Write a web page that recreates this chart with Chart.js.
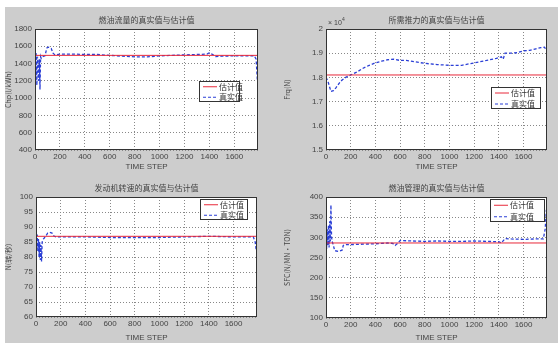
<!DOCTYPE html>
<html>
<head>
<meta charset="utf-8">
<script src="https://cdn.jsdelivr.net/npm/chart.js@4"></script>
<style>
  body { margin: 0; background: #fff; }
  #fig { position: absolute; left: 5px; top: 7px; width: 553px; height: 336px; background: #cdcdcd; }
  canvas { position: absolute; }
</style>
</head>
<body>
<div id="fig"></div>
<canvas id="c1" width="279" height="172" style="left:0;top:0"></canvas>
<canvas id="c2" width="279" height="172" style="left:279px;top:0"></canvas>
<canvas id="c3" width="279" height="172" style="left:0;top:171px"></canvas>
<canvas id="c4" width="279" height="172" style="left:279px;top:171px"></canvas>
<script>
// time axis
const xMax = 1790;
const xTicks = [0, 200, 400, 600, 800, 1000, 1200, 1400, 1600];
const seriesNames = ['估计值', '真实值'];

// fuel flow
const fuelSteps = [0, 5, 10, 15, 20, 25, 30, 35, 40, 45, 50, 60, 80, 95, 110, 130, 145, 160, 200, 300, 400, 500, 600, 700, 800, 900, 1000, 1100, 1200, 1300, 1380, 1400, 1420, 1450, 1500, 1600, 1700, 1760, 1775, 1785];
const fuelReal = [1500, 1300, 1520, 1150, 1480, 1400, 1200, 1450, 1100, 1480, 1460, 1480, 1490, 1580, 1590, 1575, 1520, 1500, 1510, 1510, 1505, 1505, 1495, 1485, 1478, 1478, 1488, 1495, 1500, 1505, 1510, 1525, 1510, 1482, 1485, 1490, 1490, 1490, 1450, 1200];
const fuelEst = 1495;

// required thrust (x 10^4)
const thrustSteps = [0, 15, 40, 60, 80, 120, 160, 200, 250, 300, 350, 400, 450, 500, 550, 600, 650, 700, 800, 900, 1000, 1100, 1200, 1300, 1380, 1420, 1435, 1450, 1500, 1550, 1600, 1650, 1700, 1740, 1770, 1785];
const thrustReal = [1.80, 1.785, 1.742, 1.745, 1.757, 1.785, 1.80, 1.81, 1.822, 1.838, 1.85, 1.86, 1.867, 1.873, 1.875, 1.870, 1.870, 1.866, 1.858, 1.853, 1.850, 1.850, 1.860, 1.870, 1.879, 1.885, 1.875, 1.90, 1.90, 1.902, 1.91, 1.912, 1.918, 1.923, 1.925, 1.91];
const thrustEst = 1.81;

// engine speed
const speedSteps = [0, 5, 10, 15, 20, 25, 30, 35, 40, 45, 50, 60, 80, 95, 110, 130, 145, 160, 200, 400, 600, 800, 1000, 1200, 1400, 1600, 1760, 1775, 1785];
const speedReal = [86, 84, 87.5, 82, 86, 80, 85, 79, 84, 78.5, 85, 86, 87, 88, 88.2, 88, 87, 86.7, 86.7, 86.7, 86.5, 86.5, 86.5, 86.7, 86.9, 86.7, 86.7, 85, 82];
const speedEst = 86.9;

// fuel line
const lineSteps = [0, 5, 10, 15, 20, 25, 30, 35, 40, 45, 50, 60, 70, 100, 130, 140, 150, 200, 300, 400, 450, 500, 540, 560, 580, 600, 700, 800, 900, 1000, 1100, 1200, 1300, 1400, 1420, 1450, 1500, 1600, 1700, 1760, 1775, 1785];
const lineReal = [304, 272, 320, 280, 330, 275, 340, 290, 380, 300, 290, 280, 267, 265, 268, 280, 282, 282, 283, 284, 285, 286, 285, 280, 285, 292, 291, 290, 291, 290, 290, 291, 290, 289, 286, 297, 296, 295, 296, 296, 320, 368];
const lineEst = 286;

function boxPlugin(title, legendBox, exponent) {
  return {
    id: 'matlabBox',
    beforeDraw(chart) {
      const a = chart.chartArea, ctx = chart.ctx;
      ctx.save();
      ctx.fillStyle = '#fff';
      ctx.fillRect(a.left, a.top, a.right - a.left, a.bottom - a.top);
      ctx.restore();
    },
    afterDraw(chart) {
      const a = chart.chartArea, ctx = chart.ctx;
      ctx.save();
      ctx.strokeStyle = '#333';
      ctx.lineWidth = 1;
      ctx.strokeRect(a.left + 0.5, a.top + 0.5, a.right - a.left - 1, a.bottom - a.top - 1);
      ctx.fillStyle = '#444';
      ctx.font = '8px "Noto Sans CJK SC"';
      ctx.textAlign = 'center';
      ctx.textBaseline = 'middle';
      ctx.fillText(title, (a.left + a.right) / 2, a.top - 9);
      if (exponent) {
        ctx.textAlign = 'left';
        ctx.font = '7px "Liberation Sans"';
        ctx.fillText('× 10', a.left + 2, a.top - 6);
        ctx.font = '5px "Liberation Sans"';
        ctx.fillText(exponent, a.left + 16, a.top - 9);
      }
      // legend
      const [lx, ly, lw, lh] = legendBox;
      ctx.fillStyle = '#fff';
      ctx.fillRect(lx, ly, lw, lh);
      ctx.strokeStyle = '#333';
      ctx.strokeRect(lx + 0.5, ly + 0.5, lw - 1, lh - 1);
      chart.data.datasets.forEach((d, i) => {
        const y = ly + lh * (i + 0.5) / 2 + 0.5;
        ctx.strokeStyle = d.borderColor;
        ctx.lineWidth = 1;
        ctx.setLineDash(d.borderDash || []);
        ctx.beginPath();
        ctx.moveTo(lx + 4, y);
        ctx.lineTo(lx + 18, y);
        ctx.stroke();
        ctx.setLineDash([]);
        ctx.fillStyle = '#333';
        ctx.font = '8px "Noto Sans CJK SC"';
        ctx.textAlign = 'left';
        ctx.fillText(d.label, lx + 20, y);
      });
      ctx.restore();
    }
  };
}

function makeChart(id, o) {
  const W = 279, H = 172;
  const a = o.area;
  return new Chart(document.getElementById(id), {
    type: 'line',
    data: {
      datasets: [{
        label: seriesNames[0],
        data: [{ x: 0, y: o.est }, { x: xMax, y: o.est }],
        borderColor: '#e8283a',
        borderWidth: 1,
        pointRadius: 0
      }, {
        label: seriesNames[1],
        data: o.steps.map((s, i) => ({ x: s, y: o.real[i] })),
        borderColor: '#2b3fd6',
        borderDash: [3, 2],
        borderWidth: 1.3,
        pointRadius: 0
      }]
    },
    options: {
      responsive: false,
      animation: false,
      layout: { padding: { left: 0, top: a[1], right: W - a[2], bottom: 0 } },
      plugins: { legend: { display: false }, tooltip: { enabled: false } },
      scales: {
        x: {
          type: 'linear', min: 0, max: xMax,
          afterBuildTicks: s => { s.ticks = xTicks.map(v => ({ value: v })); },
          afterFit: s => { s.height = H - a[3]; },
          ticks: { autoSkip: false, color: '#444', font: { size: 8, family: 'Liberation Sans' }, padding: 2, maxRotation: 0, callback: v => String(v) },
          grid: { color: '#888', drawTicks: false },
          border: { display: false, dash: [1, 2] },
          title: { display: true, text: 'TIME STEP', color: '#444', font: { size: 8, family: 'Liberation Sans' }, padding: 0 }
        },
        y: {
          min: o.yMin, max: o.yMax,
          afterBuildTicks: s => {
            s.ticks = [];
            for (let v = o.yMin; v <= o.yMax + 1e-9; v += o.yStep) s.ticks.push({ value: +v.toFixed(3) });
          },
          afterFit: s => { s.width = a[0]; },
          ticks: { autoSkip: false, color: '#444', font: { size: 8, family: 'Liberation Sans' }, padding: 3, callback: v => String(+v.toFixed(3)) },
          grid: { color: '#888', drawTicks: false },
          border: { display: false, dash: [1, 2] },
          title: { display: true, text: o.yLabel, color: '#444', font: { size: 7, family: 'Noto Sans CJK SC' }, padding: 4 }
        }
      }
    },
    plugins: [boxPlugin(o.title, o.legend, o.exponent)]
  });
}

makeChart('c1', {
  area: [35, 29, 258, 150], yMin: 400, yMax: 1800, yStep: 200,
  yLabel: 'Chp(l/kWh)', title: '燃油流量的真实值与估计值',
  est: fuelEst, steps: fuelSteps, real: fuelReal, legend: [199, 81, 41, 21]
});
makeChart('c2', {
  area: [47, 29, 268, 150], yMin: 1.5, yMax: 2, yStep: 0.1,
  yLabel: 'Frq(N)', title: '所需推力的真实值与估计值', exponent: '4',
  est: thrustEst, steps: thrustSteps, real: thrustReal, legend: [212, 87, 50, 22]
});
makeChart('c3', {
  area: [36, 26, 257, 146], yMin: 60, yMax: 100, yStep: 5,
  yLabel: 'N(转/秒)', title: '发动机转速的真实值与估计值',
  est: speedEst, steps: speedSteps, real: speedReal, legend: [200, 28, 48, 21]
});
makeChart('c4', {
  area: [47, 26, 268, 147], yMin: 100, yMax: 400, yStep: 50,
  yLabel: 'SFC(N/MN·TON)', title: '燃油管理的真实值与估计值',
  est: lineEst, steps: lineSteps, real: lineReal, legend: [211, 28, 55, 23]
});
</script>
</body>
</html>
